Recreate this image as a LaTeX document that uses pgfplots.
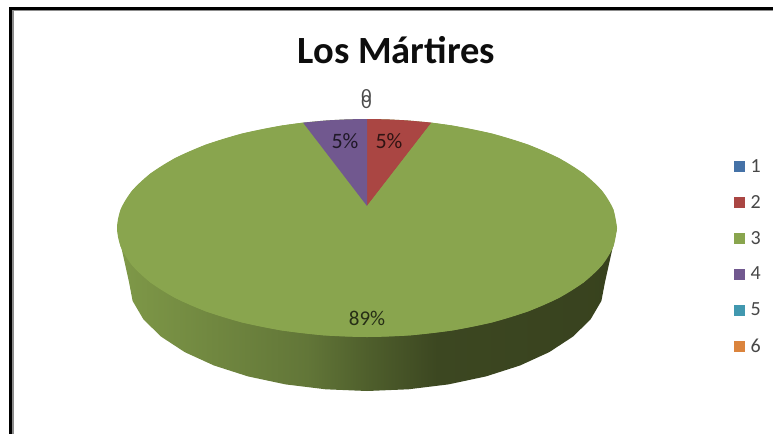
\documentclass[border=0pt]{standalone}
\usepackage{fontspec}
\setmainfont{Carlito}
\usepackage{pgfplots}
\pgfplotsset{compat=1.18}
\definecolor{cBlue}{HTML}{4572A7}
\definecolor{cRed}{HTML}{AA4643}
\definecolor{cGreen}{HTML}{89A54E}
\definecolor{cPurple}{HTML}{71588F}
\definecolor{cTeal}{HTML}{4198AF}
\definecolor{cOrange}{HTML}{DB843D}
\definecolor{sA}{HTML}{7F9948}
\definecolor{sB}{HTML}{627638}
\definecolor{sC}{HTML}{4F5F2C}
\definecolor{sD}{HTML}{3C4721}
\definecolor{sE}{HTML}{38421E}
\pgfdeclarehorizontalshading{sideshade}{100bp}{color(0bp)=(sA); color(25bp)=(sA); color(44bp)=(sB); color(50bp)=(sC); color(57bp)=(sD); color(75bp)=(sE); color(100bp)=(sE)}
\begin{document}
\begin{tikzpicture}
\begin{axis}[
  scale only axis, width=773pt, height=434pt,
  xmin=0, xmax=773, ymin=0, ymax=434, y dir=reverse,
  hide axis, clip=false,
  legend style={at={(axis cs:733.5,159)},anchor=north west,draw=none,fill=none,
    font=\fontsize{20}{20}\selectfont, text=black!72, row sep=21.5pt, column sep=6pt, inner sep=0pt,
    nodes={inner sep=0pt,anchor=west}},
  legend cell align=left,
  legend image code/.code={\fill[#1] (0pt,-5.5pt) rectangle (11pt,5.5pt);},
]
% frame
\path (axis cs:0,0) rectangle (axis cs:773,434);
\fill[black!45] (axis cs:12,11) rectangle (axis cs:14,434);
\fill[black!45] (axis cs:12,10) rectangle (axis cs:773,11.3);
\fill[black] (axis cs:9,7) rectangle (axis cs:773,10);
\fill[black] (axis cs:9,7) rectangle (axis cs:12,434);
% side of the pie
\addplot[forget plot, draw=none, shading=sideshade] coordinates {
(117,228)(617,228)(605,282)(601.4,300.9)(590.6,319.3)(573.1,336.5)(549.3,352.1)(520,365.5)(486,376.4)(448.4,384.4)(408.3,389.3)(367,391)(325.7,389.3)(285.6,384.4)(248,376.4)(214,365.5)(184.7,352.1)(160.9,336.5)(143.4,319.3)(132.6,300.9)(129,282)(117,228)};
% top face
\addplot[forget plot, smooth, draw=none, fill=cGreen] coordinates {
(617,228)(613.2,246.9)(601.9,265.3)(583.5,282.5)(558.5,298.1)(527.7,311.5)(492,322.4)(452.5,330.4)(410.4,335.3)(367,337)(323.6,335.3)(281.5,330.4)(242,322.4)(206.3,311.5)(175.5,298.1)(150.5,282.5)(132.1,265.3)(120.8,246.9)(117,228)(120.8,209.1)(132.1,190.7)(150.5,173.5)(175.5,157.9)(206.3,144.5)(242,133.6)(281.5,125.6)(323.6,120.7)(367,119)(410.4,120.7)(452.5,125.6)(492,133.6)(527.7,144.5)(558.5,157.9)(583.5,173.5)(601.9,190.7)(613.2,209.1)(617,228)};
% slices
\addplot[draw=none, fill=cBlue] coordinates {(367,206)(367,119)(367,206)};
\addlegendentry{1}
\addplot[draw=none, fill=cRed] coordinates {(367,206)(367,119)(387,119.35)(407,120.4)(431.5,122.6)(367,206)};
\addlegendentry{2}
\addplot[draw=none, fill=cGreen] coordinates {(367,206)(431.5,122.6)(452.5,125.6)(492,133.6)(527.7,144.5)(558.5,157.9)(583.5,173.5)(601.9,190.7)(613.2,209.1)(617,228)(613.2,246.9)(601.9,265.3)(583.5,282.5)(558.5,298.1)(527.7,311.5)(492,322.4)(452.5,330.4)(410.4,335.3)(367,337)(323.6,335.3)(281.5,330.4)(242,322.4)(206.3,311.5)(175.5,298.1)(150.5,282.5)(132.1,265.3)(120.8,246.9)(117,228)(120.8,209.1)(132.1,190.7)(150.5,173.5)(175.5,157.9)(206.3,144.5)(242,133.6)(281.5,125.6)(303,122.6)(367,206)};
\addlegendentry{3}
\addplot[draw=none, fill=cPurple] coordinates {(367,206)(303,122.6)(327,120.4)(347,119.35)(367,119)(367,206)};
\addlegendentry{4}
\addplot[draw=none, fill=cTeal] coordinates {(367,119)(367,119)};
\addlegendentry{5}
\addplot[draw=none, fill=cOrange] coordinates {(367,119)(367,119)};
\addlegendentry{6}
% labels
\node[font=\bfseries\fontsize{38.5}{38.5}\selectfont, text=black!95] at (axis cs:396.5,50) {Los Mártires};
\node[font=\fontsize{22}{22}\selectfont, text=black!72!cPurple] at (axis cs:345,141) {5\%};
\node[font=\fontsize{22}{22}\selectfont, text=black!72!cRed] at (axis cs:389,141) {5\%};
\node[font=\fontsize{21}{21}\selectfont, text=black!72!cGreen] at (axis cs:367,318) {89\%};
\node[font=\fontsize{20}{20}\selectfont, text=black!70] at (axis cs:366.5,96.5) {0};
\node[font=\fontsize{20}{20}\selectfont, text=black!70] at (axis cs:366.5,102.5) {0};
\end{axis}
\end{tikzpicture}
\end{document}
